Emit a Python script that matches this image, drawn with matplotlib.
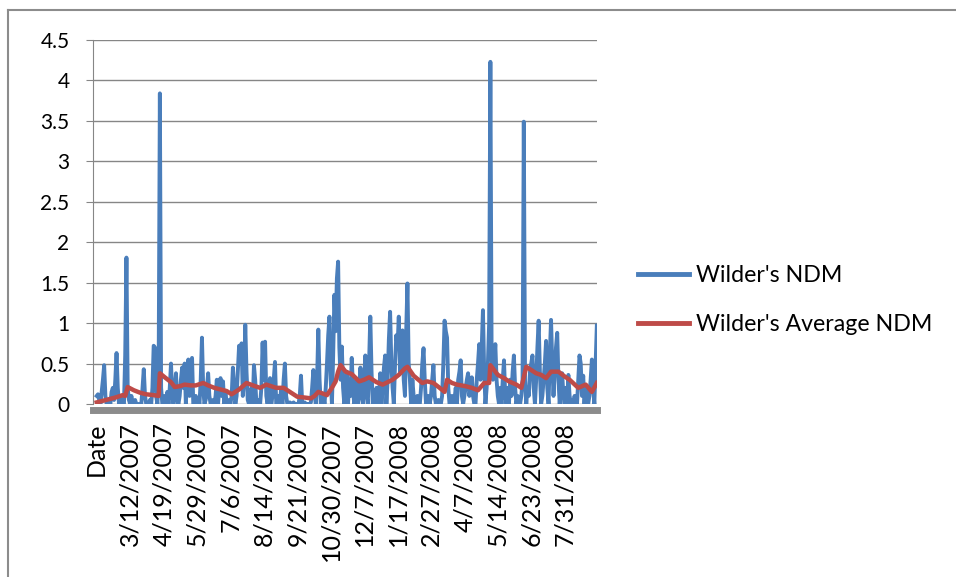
import matplotlib
matplotlib.use("Agg")
import matplotlib.pyplot as plt
from matplotlib.lines import Line2D

plt.rcParams['font.family'] = ['Lato', 'DejaVu Sans']

# x axis category labels (one label every 27 trading days)
tick_labels = ["Date", "3/12/2007", "4/19/2007", "5/29/2007", "7/6/2007", "8/14/2007",
               "9/21/2007", "10/30/2007", "12/7/2007", "1/17/2008", "2/27/2008",
               "4/7/2008", "5/14/2008", "6/23/2008", "7/31/2008"]
label_step = 27

# Wilder's NDM, one value per trading day
ndm = [
    0.1, 0.12, 0.05, 0.0, 0.15, 0.3, 0.48, 0.1, 0.0, 0.0, 0.05, 0.0, 0.15, 0.2, 0.05, 0.3, 0.63, 0.2, 0.0, 0.05, 0.1, 0.0, 0.0, 0.6, 1.81, 0.2, 0.05,
    0.0, 0.1, 0.0, 0.0, 0.05, 0.0, 0.0, 0.0, 0.0, 0.0, 0.2, 0.43, 0.1, 0.0, 0.0, 0.0, 0.05, 0.0, 0.2, 0.72, 0.7, 0.1, 0.0, 0.3, 3.84, 0.2, 0.0,
    0.0, 0.1, 0.0, 0.15, 0.0, 0.2, 0.5, 0.1, 0.0, 0.2, 0.38, 0.05, 0.0, 0.1, 0.3, 0.45, 0.2, 0.5, 0.0, 0.35, 0.55, 0.1, 0.3, 0.57, 0.0, 0.0, 0.1,
    0.0, 0.05, 0.0, 0.3, 0.82, 0.2, 0.0, 0.05, 0.2, 0.38, 0.1, 0.0, 0.0, 0.05, 0.0, 0.1, 0.3, 0.0, 0.2, 0.32, 0.1, 0.28, 0.0, 0.15, 0.0, 0.0, 0.05,
    0.0, 0.1, 0.45, 0.2, 0.0, 0.1, 0.4, 0.72, 0.5, 0.75, 0.1, 0.3, 0.98, 0.4, 0.05, 0.0, 0.1, 0.2, 0.0, 0.48, 0.3, 0.0, 0.05, 0.0, 0.0, 0.2, 0.76,
    0.3, 0.77, 0.1, 0.0, 0.2, 0.32, 0.0, 0.1, 0.3, 0.52, 0.0, 0.0, 0.1, 0.0, 0.2, 0.0, 0.3, 0.5, 0.1, 0.0, 0.0, 0.02, 0.0, 0.0, 0.02, 0.0, 0.0,
    0.0, 0.0, 0.1, 0.35, 0.0, 0.0, 0.02, 0.0, 0.0, 0.0, 0.0, 0.02, 0.2, 0.42, 0.1, 0.0, 0.3, 0.92, 0.3, 0.0, 0.0, 0.1, 0.0, 0.2, 0.5, 0.85, 1.08,
    0.3, 0.0, 0.6, 1.35, 0.9, 1.55, 1.76, 0.7, 0.3, 0.71, 0.2, 0.0, 0.1, 0.4, 0.0, 0.3, 0.1, 0.57, 0.2, 0.0, 0.05, 0.3, 0.0, 0.2, 0.45, 0.1, 0.0,
    0.3, 0.6, 0.1, 0.0, 0.5, 1.08, 0.4, 0.0, 0.1, 0.0, 0.2, 0.0, 0.1, 0.38, 0.0, 0.2, 0.45, 0.6, 0.0, 0.3, 0.8, 1.14, 0.5, 0.2, 0.0, 0.5, 0.85,
    0.7, 1.08, 0.4, 0.8, 0.91, 0.3, 0.1, 0.9, 1.49, 0.5, 0.3, 0.0, 0.3, 0.1, 0.0, 0.0, 0.1, 0.0, 0.0, 0.2, 0.5, 0.69, 0.3, 0.0, 0.0, 0.1, 0.0,
    0.1, 0.3, 0.48, 0.1, 0.0, 0.0, 0.05, 0.0, 0.0, 0.1, 0.5, 1.03, 0.9, 0.82, 0.2, 0.0, 0.0, 0.1, 0.0, 0.05, 0.2, 0.0, 0.3, 0.4, 0.54, 0.1, 0.0,
    0.1, 0.2, 0.3, 0.38, 0.1, 0.2, 0.33, 0.1, 0.0, 0.0, 0.3, 0.5, 0.74, 0.3, 0.7, 1.16, 0.4, 0.0, 0.2, 0.5, 1.0, 4.23, 0.6, 0.3, 0.5, 0.74, 0.3,
    0.1, 0.0, 0.2, 0.0, 0.3, 0.54, 0.1, 0.0, 0.2, 0.0, 0.3, 0.1, 0.4, 0.6, 0.2, 0.0, 0.1, 0.0, 0.0, 0.1, 0.3, 3.49, 0.3, 0.0, 0.2, 0.1, 0.4,
    0.5, 0.6, 0.2, 0.0, 0.3, 0.7, 1.03, 0.4, 0.0, 0.1, 0.3, 0.5, 0.78, 0.2, 0.0, 0.6, 1.04, 0.5, 0.1, 0.4, 0.7, 0.88, 0.3, 0.0, 0.2, 0.38, 0.1,
    0.0, 0.2, 0.0, 0.36, 0.1, 0.0, 0.05, 0.0, 0.1, 0.0, 0.0, 0.3, 0.6, 0.5, 0.1, 0.35, 0.0, 0.2, 0.0, 0.0, 0.1, 0.3, 0.55, 0.2, 0.0, 0.5, 0.97,
]

# Wilder's Average NDM, read at selected days
avg_days = [0, 5, 10, 15, 21, 23, 25, 30, 35, 40, 46, 50, 51, 55, 60, 63, 67, 71, 76, 80,
            86, 90, 95, 100, 105, 109, 115, 121, 128, 132, 137, 145, 151, 157, 162, 168, 173, 176, 179, 186,
            190, 193, 195, 197, 201, 206, 212, 216, 220, 226, 231, 235, 239, 244, 249, 251, 256, 263, 267, 272,
            277, 281, 283, 287, 291, 298, 303, 308, 313, 317, 318, 324, 329, 333, 339, 343, 347, 351, 355, 359,
            363, 367, 373, 378, 382, 389, 395, 400, 404]
avg_ndm = [0.02, 0.04, 0.06, 0.08, 0.11, 0.1, 0.21, 0.17, 0.14, 0.12, 0.11, 0.1, 0.38, 0.33, 0.27, 0.21, 0.22, 0.24, 0.23, 0.23,
           0.26, 0.23, 0.2, 0.18, 0.16, 0.12, 0.18, 0.26, 0.22, 0.2, 0.24, 0.2, 0.2, 0.14, 0.09, 0.08, 0.07, 0.1, 0.15, 0.11,
           0.2, 0.28, 0.4, 0.48, 0.4, 0.37, 0.28, 0.3, 0.33, 0.27, 0.24, 0.27, 0.3, 0.36, 0.44, 0.46, 0.35, 0.26, 0.28, 0.26,
           0.2, 0.15, 0.3, 0.26, 0.24, 0.22, 0.2, 0.17, 0.26, 0.26, 0.48, 0.36, 0.32, 0.28, 0.24, 0.2, 0.46, 0.42, 0.38, 0.36,
           0.32, 0.4, 0.4, 0.34, 0.3, 0.2, 0.24, 0.15, 0.26]

blue = "#4a7ebb"
red = "#be4b48"
grid_gray = "#868686"

fig = plt.figure(figsize=(9.56, 5.77), dpi=100)
ax = fig.add_axes([0.0973, 0.2998, 0.527, 0.6309])

# spine position first: moving it resets the tick label settings
for side in ["top", "right"]:
    ax.spines[side].set_visible(False)
ax.spines["left"].set_color(grid_gray)
ax.spines["bottom"].set_color("#8c8c8c")
ax.spines["bottom"].set_linewidth(5)
ax.spines["bottom"].set_position(("outward", 4))

days = list(range(len(ndm)))
ax.plot(days, ndm, color=blue, lw=2.8, solid_joinstyle="round", zorder=3)
ax.plot(avg_days, avg_ndm, color=red, lw=3.2, solid_joinstyle="round", zorder=4)

ax.set_xlim(-3, len(ndm) - 1)
ax.set_ylim(0, 4.5)
ax.set_yticks([0, 0.5, 1, 1.5, 2, 2.5, 3, 3.5, 4, 4.5])
ax.set_yticklabels(["0", "0.5", "1", "1.5", "2", "2.5", "3", "3.5", "4", "4.5"], fontsize=15)
ax.yaxis.grid(True, color=grid_gray, lw=1.0)
ax.set_axisbelow(True)

ax.set_xticks([i * label_step for i in range(len(tick_labels))])
ax.set_xticklabels(tick_labels, rotation=90, fontsize=18)
ax.tick_params(axis="x", length=0, pad=9)
ax.tick_params(axis="y", length=5, color=grid_gray, pad=12)

handles = [Line2D([], [], color=blue, lw=3.5), Line2D([], [], color=red, lw=3.5)]
fig.legend(handles, ["Wilder's NDM", "Wilder's Average NDM"], loc="center left",
           bbox_to_anchor=(0.646, 0.48), frameon=False, fontsize=16.7,
           handlelength=2.2, handletextpad=0.3, labelspacing=1.2)

# chart area border (top and left edges visible)
fig.add_artist(Line2D([0.0085, 0.0085], [0, 0.983], color="#8c8c8c", lw=1.5))
fig.add_artist(Line2D([0.0085, 1.0], [0.983, 0.983], color="#8c8c8c", lw=1.5))

fig.savefig("out.png", dpi=100)
